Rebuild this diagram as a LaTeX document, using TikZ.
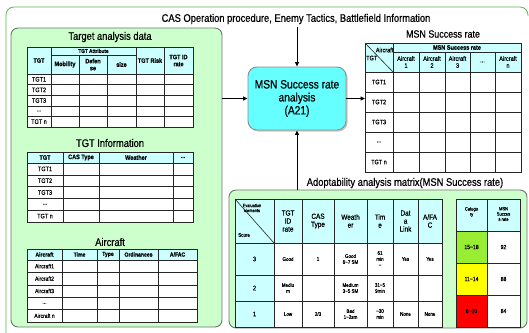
\documentclass[tikz,border=0pt]{standalone}
\usepackage{fontspec}
\setmainfont{Liberation Sans}[FakeStretch=0.85, FakeBold=0.6]
\usetikzlibrary{arrows.meta,shadows}
\definecolor{outg}{HTML}{5DBB4F}
\definecolor{pang}{HTML}{CCFFCC}
\definecolor{hdc}{HTML}{CCFFFF}
\definecolor{boxc}{HTML}{66FFFF}
\definecolor{grc}{HTML}{99EE33}
\definecolor{yec}{HTML}{FFFF00}
\definecolor{rec}{HTML}{FF0000}
\newcommand{\myfs}[2]{\fontsize{#1}{#2}\selectfont}
\newcommand{\mydots}{...}
\newcommand{\tld}{\textasciitilde}
\begin{document}
\begin{tikzpicture}[x=1pt,y=-1pt,
  panel/.style={draw=black!55, line width=0.9pt, fill=pang, rounded corners=7pt, inner sep=0pt, outer sep=0pt},
  tl/.style={draw=black!85, line width=0.6pt},
  tx/.style={font=\myfs{6.5}{7}, align=center, inner sep=0pt},
  hx/.style={font=\bfseries\myfs{6.5}{7}, align=center, inner sep=0pt},
  sx/.style={font=\myfs{5.3}{6}, align=center, inner sep=0pt},
  title/.style={font=\myfs{11}{12}, inner sep=0pt},
  arr/.style={-{Triangle[length=4.5pt,width=4pt]}, line width=1pt},
]
\useasboundingbox (0,0) rectangle (529,332);
\fill[white] (0,0) rectangle (529,332);
\draw[outg, line width=0.8pt, rounded corners=8pt] (6,336) -- (6,7) -- (528,7) -- (528,16);

% panels
\node[panel, anchor=north west, minimum width=211pt, minimum height=299pt] (lp) at (11,28) {};
\node[panel, anchor=north west, minimum width=298pt, minimum height=138pt] (rp) at (229,190) {};

% titles
\node[title] (t1) at (110,37) {Target analysis data};
\node[title] (t2) at (110,143) {TGT Information};
\node[title] (t3) at (110,242) {Aircraft};
\node[title] (cas) at (296,19) {CAS Operation procedure, Enemy Tactics, Battlefield Information};
\node[title, font=\myfs{10.5}{12}] (t4) at (443,34) {MSN Success rate};
\node[title] (adp) at (405,183) {Adoptability analysis matrix(MSN Success rate)};

% centre process
\node[draw=black!45, line width=0.9pt, fill=boxc, rounded corners=9pt, minimum width=98pt, minimum height=63pt, inner sep=0pt,
  drop shadow={shadow xshift=1.5pt, shadow yshift=-1.5pt, fill=black!45},
  font=\myfs{12}{13}, align=center] (msn) at (297,98.5) {MSN Success rate\\analysis\\(A21)};

% arrows
\draw[arr] ([yshift=-3pt]msn.north |- cas.south) -- (msn.north);
\draw[arr] (lp.east |- msn.west) -- (msn.west);
\coordinate (mtw) at (365,100);
\draw[arr] (msn.east) -- (msn.east -| mtw);
\draw[arr] (rp.north -| msn.south) -- (msn.south);

% ---- Table 1: target analysis data
\fill[hdc] (27,47) rectangle (193,74);
\fill[white] (27,74) rectangle (193,127);
\draw[tl] (27,47) rectangle (193,127);
\foreach \x in {51,136,164} \draw[tl] (\x,47) -- (\x,127);
\foreach \x in {79,107} \draw[tl] (\x,55) -- (\x,127);
\draw[tl] (51,55) -- (136,55);
\foreach \y in {74,84.6,95.2,105.8,116.4} \draw[tl] (27,\y) -- (193,\y);
\node[hx] (a0) at (39,60.5) {TGT};
\node[hx, font=\bfseries\myfs{5.5}{6}] (a1) at (93.5,51) {TGT Attribute};
\node[hx] (a2) at (65,64.5) {Mobility};
\node[hx] (a3) at (93,64.5) {Defen\\se};
\node[hx] (a4) at (121.5,64.5) {size};
\node[hx] (a5) at (150,60.5) {TGT Risk};
\node[hx] (a6) at (178.5,60.5) {TGT ID\\rate};
\foreach \t [count=\i] in {TGT1,TGT2,TGT3,\mydots,TGT n}
  \node[tx] (ar\i) at (39,{74+10.6*\i-5.3}) {\t};

% ---- Table 2: TGT information
\fill[hdc] (27,152) rectangle (193,163);
\fill[white] (27,163) rectangle (193,222);
\draw[tl] (27,152) rectangle (193,222);
\foreach \x in {63,99,173} \draw[tl] (\x,152) -- (\x,222);
\foreach \y in {163,174.8,186.6,198.4,210.2} \draw[tl] (27,\y) -- (193,\y);
\node[hx] (b1) at (45,157.5) {TGT};
\node[hx] (b2) at (81,157.5) {CAS Type};
\node[hx] (b3) at (136,157.5) {Weather};
\node[hx] (b4) at (183,157.5) {\mydots};
\foreach \t [count=\i] in {TGT1,TGT2,TGT3,\mydots,TGT n}
  \node[tx] (br\i) at (45,{163+11.8*\i-5.9}) {\t};

% ---- Table 3: aircraft
\fill[hdc] (27,249) rectangle (197,260);
\fill[white] (27,260) rectangle (197,322);
\draw[tl] (27,249) rectangle (197,322);
\foreach \x in {62,97,119,158} \draw[tl] (\x,249) -- (\x,322);
\foreach \y in {260,272.4,284.8,297.2,309.6} \draw[tl] (27,\y) -- (197,\y);
\node[hx, font=\bfseries\myfs{6}{7}] (c1) at (44.5,254.5) {Aircraft};
\node[hx, font=\bfseries\myfs{6}{7}] (c2) at (79.5,254.5) {Time};
\node[hx, font=\bfseries\myfs{6}{7}] (c3) at (108,254.5) {Type};
\node[hx, font=\bfseries\myfs{6}{7}] (c4) at (138.5,254.5) {Ordinances};
\node[hx, font=\bfseries\myfs{6}{7}] (c5) at (177.5,254.5) {A/FAC};
\foreach \t [count=\i] in {Aircraft1,Aircraft2,Aircraft3,\mydots,Aircraft n}
  \node[tx, font=\myfs{6}{7}] (cr\i) at (44.5,{260+12.4*\i-6.2}) {\t};

% ---- MSN success rate table
\fill[hdc] (365,43) rectangle (521,72);
\fill[white] (365,72) rectangle (521,172);
\draw[tl] (365,43) rectangle (521,172);
\draw[tl] (393,43) -- (393,172);
\foreach \x in {419,445,470,495} \draw[tl] (\x,52) -- (\x,172);
\draw[tl] (393,52) -- (521,52);
\foreach \y in {72,92,112,132,152} \draw[tl] (365,\y) -- (521,\y);
\draw[tl] (365,43) -- (393,72);
\node[tx, anchor=east] (m0) at (393.5,50) {Aircraft};
\node[tx, anchor=west] (m00) at (366,58) {TGT};
\node[hx] (m1) at (457,47.5) {MSN Success rate};
\node[tx] (mc1) at (406,62) {Aircraft\\1};
\node[tx] (mc2) at (432,62) {Aircraft\\2};
\node[tx] (mc3) at (457.5,62) {Aircraft\\3};
\node[tx] (mc4) at (482.5,62) {\mydots};
\node[tx] (mc5) at (508,62) {Aircraft\\n};
\foreach \t [count=\i] in {TGT1,TGT2,TGT3,\mydots,TGT n}
  \node[tx] (mr\i) at (379,{72+20*\i-10}) {\t};

% ---- Adoptability analysis matrix
\fill[hdc] (235,199) rectangle (442,243);
\fill[hdc] (235,243) rectangle (274,327);
\fill[white] (274,243) rectangle (442,327);
\draw[tl] (235,199) rectangle (442,327);
\foreach \x in {274,302,334,367,393,418} \draw[tl] (\x,199) -- (\x,327);
\foreach \y in {243,275,301} \draw[tl] (235,\y) -- (442,\y);
\draw[tl] (235,199) -- (274,243);
\node[sx, font=\myfs{4.6}{5}] (d0) at (252,208) {Evaluation\\elements};
\node[sx, anchor=west] (d00) at (238,235) {Score};
\node[tx, font=\myfs{7.5}{8}] (d1) at (288,221) {TGT\\ID\\rate};
\node[tx, font=\myfs{7.5}{8}] (d2) at (318,221) {CAS\\Type};
\node[tx, font=\myfs{7.5}{8}] (d3) at (350.5,221) {Weath\\er};
\node[tx, font=\myfs{7.5}{8}] (d4) at (380,221) {Tim\\e};
\node[tx, font=\myfs{7.5}{8}] (d5) at (405.5,221) {Dat\\a\\Link};
\node[tx, font=\myfs{7.5}{8}] (d6) at (430,221) {A/FA\\C};
% row 3
\node[tx] (e1) at (254.5,259) {3};
\node[sx] (e2) at (288,259) {Good};
\node[sx] (e3) at (318,259) {1};
\node[sx] (e4) at (350.5,259) {Good\\6\tld7 SM};
\node[sx] (e5) at (380,259) {61\\min\\\tld};
\node[sx] (e6) at (405.5,259) {Yes};
\node[sx] (e7) at (430,259) {Yes};
% row 2
\node[tx] (f1) at (254.5,288) {2};
\node[sx] (f2) at (288,288) {Mediu\\m};
\node[sx] (f4) at (350.5,288) {Medium\\3\tld5 SM};
\node[sx] (f5) at (380,288) {31\tld5\\9min};
% row 1
\node[tx] (g1) at (254.5,314) {1};
\node[sx] (g2) at (288,314) {Low};
\node[sx] (g3) at (318,314) {2/3};
\node[sx] (g4) at (350.5,314) {Bad\\1\tld2sm};
\node[sx] (g5) at (380,314) {\tld30\\min};
\node[sx] (g6) at (405.5,314) {None};
\node[sx] (g7) at (430,314) {None};

% ---- Category table
\fill[hdc] (456,199) rectangle (520,231);
\fill[grc] (456,231) rectangle (487,263);
\fill[yec] (456,263) rectangle (487,295);
\fill[rec] (456,295) rectangle (487,327);
\fill[white] (487,231) rectangle (520,327);
\draw[tl] (456,199) rectangle (520,327);
\draw[tl] (487,199) -- (487,327);
\foreach \y in {231,263,295} \draw[tl] (456,\y) -- (520,\y);
\node[sx, font=\myfs{4.8}{5.3}] (h1) at (471.5,212) {Catego\\ry};
\node[sx, font=\myfs{4.8}{5.3}] (h2) at (503.5,214) {MSN\\Succes\\s rate};
\node[tx, font=\myfs{6}{7}] (k1) at (471.5,247) {15\tld18};
\node[tx, font=\myfs{6}{7}] (k2) at (471.5,279) {11\tld14};
\node[tx, font=\myfs{6}{7}] (k3) at (471.5,311) {6\tld10};
\node[tx, font=\myfs{6}{7}] (k4) at (503.5,247) {92};
\node[tx, font=\myfs{6}{7}] (k5) at (503.5,279) {88};
\node[tx, font=\myfs{6}{7}] (k6) at (503.5,311) {84};
\end{tikzpicture}
\end{document}
